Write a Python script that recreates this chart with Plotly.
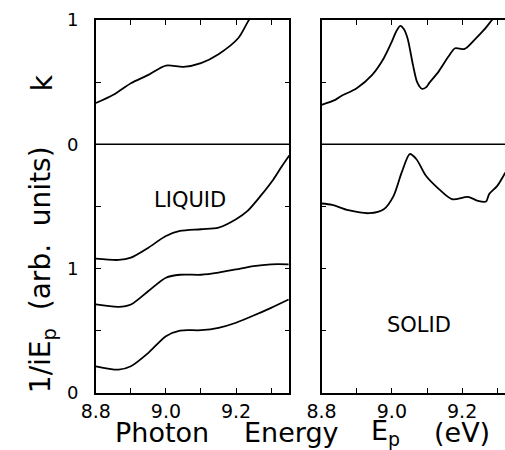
import plotly.graph_objects as go

# ---------------- data ----------------
# LIQUID panel, upper section: extinction coefficient k
liq_k_x = [8.80, 8.85, 8.90, 8.95, 9.00, 9.05, 9.10, 9.15, 9.206, 9.234, 9.26]
liq_k = [0.332, 0.399, 0.492, 0.559, 0.634, 0.623, 0.653, 0.725, 0.853, 0.987, 1.10]

# LIQUID panel, lower section: 1/iE_p (arb. units, offset curves)
liq_x = [8.80, 8.865, 8.90, 8.95, 9.00, 9.04, 9.10, 9.15, 9.20, 9.25, 9.30, 9.35]
liq_a_x = [8.80, 8.865, 8.90, 8.95, 9.00, 9.04, 9.10, 9.15, 9.20, 9.233, 9.27, 9.307, 9.33, 9.352]
liq_a = [1.08, 1.07, 1.089, 1.169, 1.263, 1.303, 1.317, 1.33, 1.398, 1.465, 1.585, 1.72, 1.82, 1.91]
liq_b = [0.712, 0.693, 0.712, 0.82, 0.927, 0.951, 0.951, 0.968, 0.994, 1.021, 1.035, 1.035]
liq_c = [0.215, 0.188, 0.215, 0.323, 0.457, 0.502, 0.505, 0.524, 0.565, 0.623, 0.685, 0.752]

# SOLID panel, upper section: k
sol_k_x = [8.80, 8.839, 8.857, 8.90, 8.944, 8.977, 9.00, 9.012, 9.024, 9.034, 9.045,
           9.06, 9.072, 9.085, 9.098, 9.106, 9.133, 9.161, 9.18, 9.207, 9.235, 9.262, 9.285, 9.30]
sol_k = [0.318, 0.358, 0.39, 0.452, 0.559, 0.693, 0.826, 0.906, 0.952, 0.928, 0.85,
         0.639, 0.50, 0.447, 0.46, 0.492, 0.585, 0.706, 0.773, 0.767, 0.84, 0.92, 1.0, 1.05]

# SOLID panel, lower section: 1/iE_p
sol_x = [8.80, 8.83, 8.876, 8.936, 8.977, 9.005, 9.028, 9.051, 9.07, 9.097, 9.134,
         9.171, 9.217, 9.245, 9.268, 9.277, 9.30, 9.323]
sol_e = [1.524, 1.513, 1.47, 1.446, 1.478, 1.586, 1.774, 1.922, 1.88, 1.747, 1.64,
         1.559, 1.577, 1.545, 1.54, 1.60, 1.666, 1.774]

K_OFFSET = 2.0  # k section sits above the 1/iE_p section

x_tickvals = [8.8, 8.9, 9.0, 9.1, 9.2, 9.3]
x_ticktext = ["8.8", "", "9.0", "", "9.2", ""]
y_tickvals = [0, 0.5, 1, 1.5, 2, 2.5, 3]
y_ticktext = ["0", "", "1", "", "0", "", "1"]

FONT = "DejaVu Sans"
LW = 1.8

fig = go.Figure()

def add(x, y, xa, ya):
    fig.add_trace(go.Scatter(x=x, y=y, mode="lines", xaxis=xa, yaxis=ya,
                             line=dict(color="black", width=LW, shape="spline", smoothing=0.8),
                             showlegend=False, hoverinfo="skip"))

add(liq_k_x, [K_OFFSET + v for v in liq_k], "x", "y")
add(liq_a_x, liq_a, "x", "y")
add(liq_x, liq_b, "x", "y")
add(liq_x, liq_c, "x", "y")
add(sol_k_x, [K_OFFSET + v for v in sol_k], "x2", "y2")
add(sol_x, sol_e, "x2", "y2")

ax_common = dict(showline=True, linecolor="black", linewidth=1.5, ticks="inside",
                 ticklen=5, tickwidth=1.3, tickcolor="black", showgrid=False,
                 zeroline=False)
xfont = dict(family=FONT, size=19, color="black")
yfont = dict(family=FONT, size=18, color="black")

fig.update_layout(
    width=505, height=450,
    margin=dict(l=0, r=0, t=20, b=57),
    paper_bgcolor="white", plot_bgcolor="white",
    font=dict(family=FONT, color="black"),
    xaxis=dict(domain=[0.165, 0.5598], range=[8.8, 9.352], tickvals=x_tickvals,
               ticktext=x_ticktext, mirror="ticks", anchor="y", tickfont=xfont,
               ticklabelstandoff=0, **ax_common),
    xaxis2=dict(domain=[0.6257, 1.0], range=[8.8, 9.322], tickvals=x_tickvals,
                ticktext=x_ticktext, mirror="ticks", anchor="y2", tickfont=xfont,
                ticklabelstandoff=0, **ax_common),
    yaxis=dict(range=[0, 3], tickvals=y_tickvals, ticktext=y_ticktext,
               mirror="ticks", anchor="x", tickfont=yfont, ticklabelstandoff=12,
               **ax_common),
    yaxis2=dict(range=[0, 3], tickvals=y_tickvals, showticklabels=False,
                mirror=False, anchor="x2", **ax_common),
)

# k = 0 baselines
fig.add_shape(type="line", xref="x domain", yref="y", x0=0, x1=1, y0=K_OFFSET, y1=K_OFFSET,
              line=dict(color="black", width=1.5))
fig.add_shape(type="line", xref="x2 domain", yref="y2", x0=0, x1=1, y0=K_OFFSET, y1=K_OFFSET,
              line=dict(color="black", width=1.5))

# panel labels
fig.add_annotation(x=9.07, y=1.55, xref="x", yref="y", text="LIQUID", showarrow=False,
                   font=dict(family=FONT, size=21, color="black"))
fig.add_annotation(x=9.078, y=0.55, xref="x2", yref="y2", text="SOLID", showarrow=False,
                   font=dict(family=FONT, size=21, color="black"))

# axis titles as annotations
TF = dict(family=FONT, size=27, color="black")
def paper_y(py):
    return (393 - py) / 373.0

for txt, cx in [("Photon", 151), ("Energy", 285), ("E<sub>p</sub>", 382), ("(eV)", 461)]:
    fig.add_annotation(x=cx / 505.0, y=paper_y(432), xref="paper", yref="paper", text=txt,
                       showarrow=False, xanchor="center", yanchor="middle", font=TF)

fig.add_annotation(x=28 / 505.0, y=paper_y(270), xref="paper", yref="paper",
                   text="1/iE<sub>p</sub>\u00a0\u00a0(arb.\u00a0\u00a0units)", textangle=-90,
                   showarrow=False, xanchor="center", yanchor="middle",
                   font=dict(family=FONT, size=28, color="black"))
fig.add_annotation(x=28 / 505.0, y=paper_y(83), xref="paper", yref="paper",
                   text="k", textangle=-90,
                   showarrow=False, xanchor="center", yanchor="middle",
                   font=dict(family=FONT, size=28, color="black"))

fig.write_html("out.html")
